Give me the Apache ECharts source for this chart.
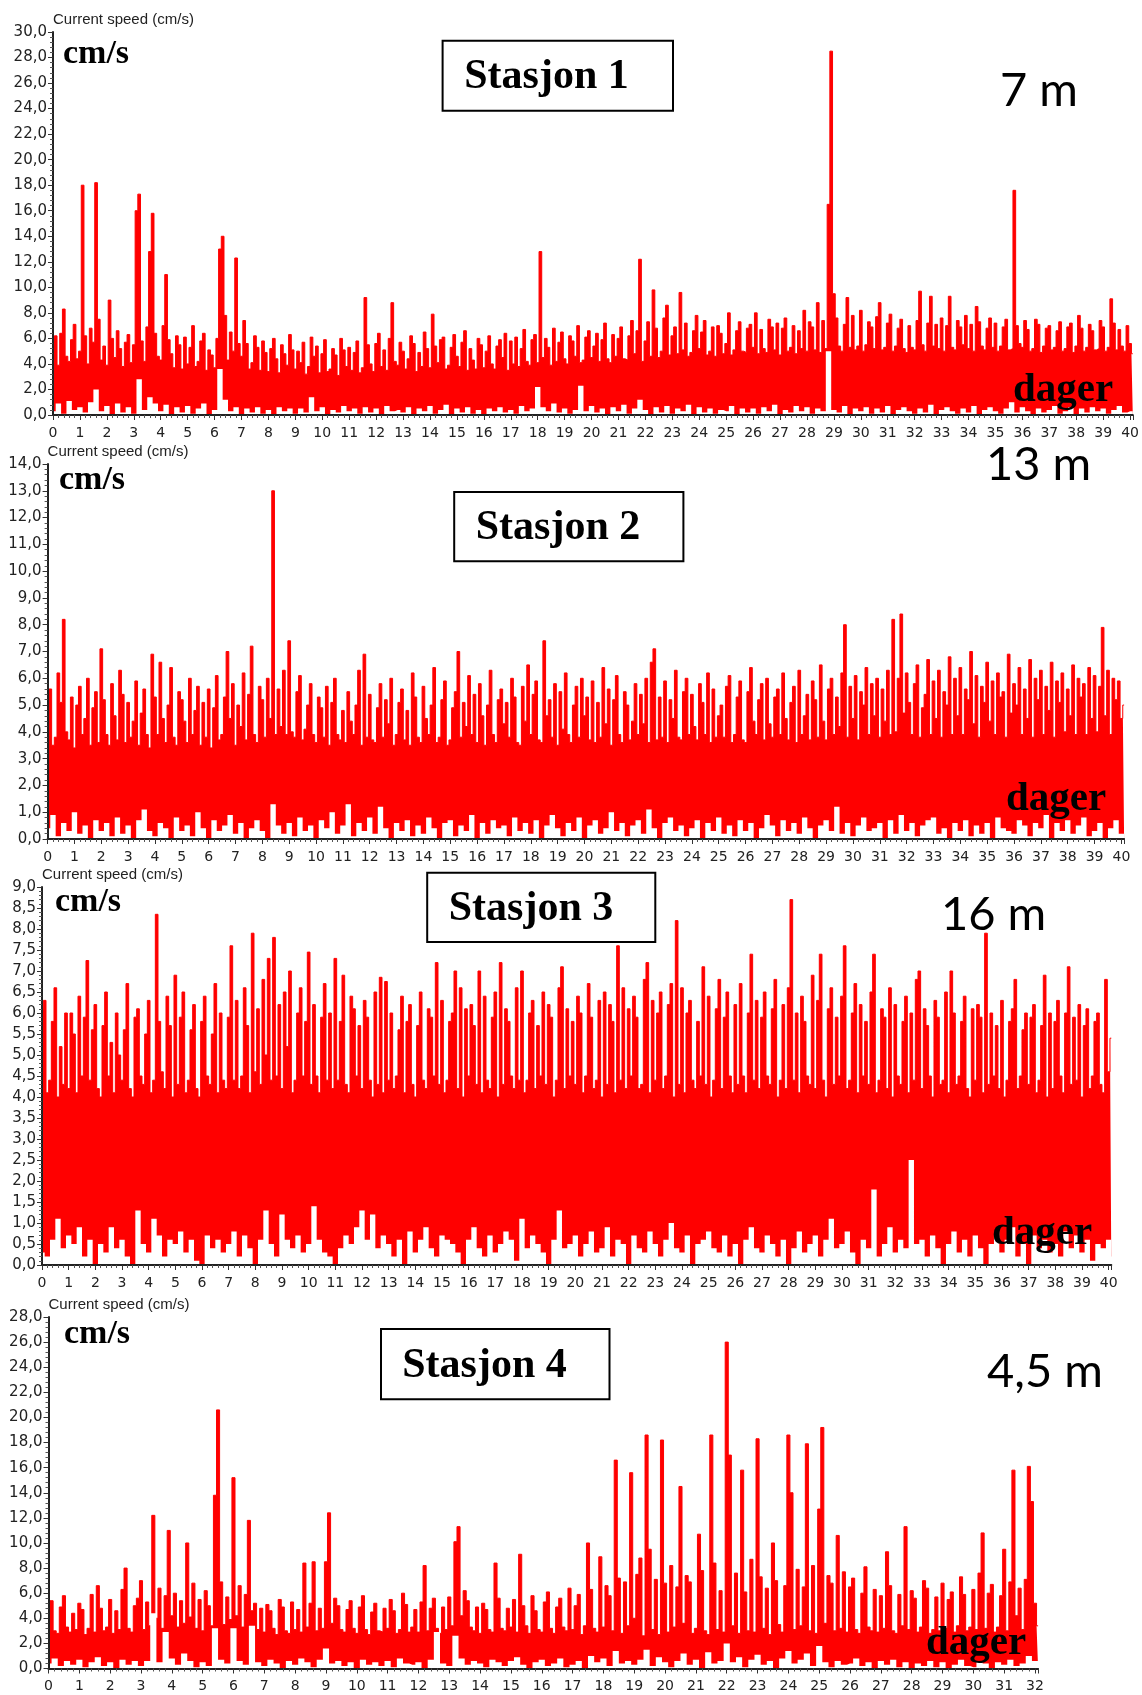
<!DOCTYPE html>
<html>
<head>
<meta charset="utf-8">
<script src="https://cdn.jsdelivr.net/npm/echarts@6/dist/echarts.min.js"></script>
<style>
html,body{margin:0;padding:0;background:#fff;}
#main{width:1142px;height:1695px;}
</style>
</head>
<body>
<div id="main"></div>
<script>
// current speed, cm/s. upper edge read 10 per day, lower edge 5 per day
var HI_STEP = 0.1;
var LO_STEP = 0.2;

var stationNames = ['Stasjon 1', 'Stasjon 2', 'Stasjon 3', 'Stasjon 4'];
var depths = ['7 m', '13 m', '16 m', '4,5 m'];
var yMaxes = [30, 14, 9, 28];
var yIntervals = [2, 1, 0.5, 2];
var xMaxes = [40.1, 40.1, 40.1, 32.1];

var s1Hi = [
  5.6,6.2,3.9,6.4,8.3,4.6,4.2,5.9,7.1,4.4,
  5.0,18.0,6.2,4.0,6.8,5.7,18.2,7.5,4.3,5.4,
  3.9,9.0,6.0,4.5,6.6,5.2,3.8,5.7,6.3,4.1,
  5.5,16.0,17.3,5.8,4.2,6.9,12.8,15.8,6.4,4.6,
  4.3,7.0,11.0,5.9,4.8,3.7,6.2,5.5,3.6,6.1,
  4.0,5.3,7.0,3.8,4.2,5.8,6.4,3.5,5.1,4.7,
  3.7,6.0,13.0,14.0,7.8,4.3,6.5,5.0,12.3,5.6,
  4.6,7.4,5.6,3.6,4.1,6.2,5.3,3.5,5.8,4.9,
  3.4,5.2,6.0,4.4,3.3,5.5,4.8,3.9,6.3,5.1,
  3.6,5.0,4.1,5.7,3.2,3.8,6.1,4.6,5.4,3.3,
  4.8,5.9,3.4,3.6,5.2,4.7,3.1,6.0,5.1,3.8,
  5.3,3.5,4.9,5.8,3.3,3.7,9.2,5.5,4.0,3.4,
  5.6,6.4,3.8,5.1,3.5,6.0,8.8,4.2,3.9,5.7,
  5.0,3.6,4.4,6.2,5.6,3.4,4.9,3.8,6.5,5.2,
  3.7,7.9,5.4,4.1,5.9,6.1,3.6,3.9,5.3,6.3,
  4.6,3.8,5.7,6.6,3.5,5.2,4.3,3.6,6.0,5.5,
  3.7,5.0,6.2,4.0,3.6,5.4,5.9,4.5,6.4,3.5,
  5.8,4.0,6.1,3.8,5.2,6.7,4.2,3.9,5.9,6.3,
  4.1,12.8,4.5,6.0,5.3,3.9,6.8,4.2,5.7,6.5,
  4.4,4.0,6.2,5.8,4.6,7.0,4.1,4.3,6.1,6.6,
  4.5,5.4,6.4,4.2,5.9,7.2,4.4,4.1,6.3,4.6,
  6.0,6.9,4.4,4.3,6.2,7.4,4.8,6.6,12.2,4.2,
  5.8,7.3,4.6,9.8,6.8,4.5,5.0,7.6,8.6,4.7,
  6.2,6.9,4.8,9.6,5.1,7.2,4.6,4.9,6.6,7.8,
  5.2,6.5,7.4,4.7,5.0,6.9,4.6,7.0,6.4,4.8,
  5.6,8.0,4.7,5.1,6.6,7.3,5.0,4.9,6.8,7.1,
  5.3,8.0,4.8,6.7,5.2,4.9,7.5,6.9,5.1,7.2,
  4.7,6.8,7.6,5.0,5.3,7.0,4.8,6.6,5.2,8.2,
  5.0,7.3,6.9,5.1,8.8,4.9,7.4,5.2,16.5,28.5,
  9.5,7.6,5.4,5.0,7.1,9.2,5.3,7.8,5.1,5.4,
  8.2,5.0,5.5,7.3,6.9,5.2,7.7,8.8,5.1,5.3,
  7.2,7.9,5.0,5.4,6.8,7.5,5.2,4.9,7.0,5.3,
  5.1,7.4,9.7,5.5,5.0,7.2,9.3,5.4,7.1,5.2,
  7.6,5.0,7.0,9.3,5.3,5.1,7.4,6.9,5.5,7.8,
  5.2,7.1,5.0,8.5,7.3,5.4,5.1,6.8,7.6,5.3,
  7.2,5.0,5.4,6.9,7.5,5.1,5.2,17.6,7.0,5.6,
  5.3,7.4,6.7,5.0,5.2,7.5,7.1,4.9,5.4,6.8,
  7.0,5.1,5.3,6.6,7.3,5.0,5.2,6.9,7.2,4.9,
  5.4,7.8,6.8,5.0,5.3,7.1,6.6,5.1,5.2,7.4,
  6.9,5.0,5.3,9.1,7.2,5.1,6.7,5.4,5.0,7.0,
  5.6,4.8
];
var s1Lo = [
  0.3,0.9,0.1,1.1,0.4, 0.6,0.2,1.0,2.0,0.3, 0.7,0.0,0.9,0.2,0.6, 0.1,2.8,0.4,1.4,0.9,
  0.3,0.8,0.0,0.6,0.2, 0.7,0.1,0.5,0.9,0.0, 0.4,3.6,1.2,0.3,0.6, 0.0,0.5,0.2,0.6,0.1,
  0.4,0.0,0.6,0.3,0.5, 0.1,0.5,0.2,1.4,0.3, 0.6,0.0,0.4,0.2,0.7, 0.3,0.5,0.1,0.6,0.2,
  0.5,0.0,0.7,0.3,0.4, 0.2,0.6,0.0,0.5,0.3, 0.7,0.1,0.4,0.8,0.0, 0.5,0.2,0.6,0.1,0.4,
  0.0,0.5,0.3,0.6,0.2, 0.4,0.1,0.7,0.3,0.5, 2.2,0.6,0.3,0.9,0.2, 0.5,0.1,0.4,2.3,0.3,
  0.7,0.2,0.5,0.0,0.6, 0.3,0.8,0.1,0.5,1.2, 0.4,0.0,0.6,0.2,0.7, 0.1,0.5,0.3,0.8,0.0,
  0.6,0.2,0.5,0.1,0.4, 0.3,0.7,0.0,0.5,0.2, 0.5,0.1,0.6,0.3,0.8, 0.0,0.4,0.2,0.7,0.3,
  0.6,0.1,0.5,0.3,5.0, 0.4,0.2,0.7,0.0,0.5, 0.3,0.6,0.1,0.5,0.2, 0.7,0.0,0.4,0.6,0.3,
  0.1,0.5,0.2,0.8,0.0, 0.4,0.6,0.3,0.1,0.5, 0.2,0.7,0.0,0.4,0.6, 0.3,0.1,0.5,1.0,0.2,
  0.6,0.3,0.0,0.5,0.2, 0.4,0.7,0.1,0.3,0.6, 0.0,0.5,0.2,0.6,0.3, 0.5,0.1,0.4,0.7,0.2,
  0.3,0.0
];

var s2Hi = [
  4.8,5.6,3.5,3.8,6.2,5.1,8.2,4.0,3.7,5.3,
  3.4,5.0,5.7,3.9,4.5,6.0,3.5,4.9,5.5,3.6,
  7.1,5.2,3.9,3.5,5.8,4.6,3.7,6.3,5.4,3.6,
  5.1,3.8,4.4,5.9,3.5,4.7,5.6,3.9,3.4,6.9,
  5.3,3.9,6.6,4.5,3.6,5.0,6.4,3.8,3.5,5.5,
  5.2,4.4,3.6,6.0,3.9,4.8,5.7,3.5,5.1,3.8,
  5.6,3.4,4.9,6.1,3.7,3.9,5.3,7.0,4.5,5.8,
  3.5,5.0,4.2,6.2,3.7,5.4,7.2,3.9,3.6,5.7,
  5.2,3.8,6.0,4.5,13.0,3.9,5.6,4.2,6.3,3.9,
  7.4,4.0,3.8,5.5,6.1,3.7,4.1,5.0,5.8,3.9,
  3.6,5.3,4.9,3.8,5.7,3.5,5.1,6.0,3.9,3.7,
  4.8,3.6,5.5,4.4,3.9,5.0,6.3,3.5,6.9,3.8,
  5.4,3.7,3.6,4.9,5.8,3.8,5.2,4.3,6.0,3.5,
  3.9,5.1,5.6,3.7,4.8,3.5,6.2,5.3,3.8,3.6,
  5.7,4.5,3.9,5.0,6.4,3.6,3.8,5.2,5.9,3.5,
  3.7,4.9,5.5,7.0,3.8,5.1,4.2,6.1,3.9,5.4,
  3.6,5.8,4.6,3.5,5.0,6.3,3.9,3.6,5.2,5.6,
  4.3,5.1,3.8,6.0,5.3,3.6,3.5,5.7,4.4,6.5,
  3.9,5.4,5.9,3.7,3.6,7.4,4.6,5.2,3.8,5.8,
  3.5,5.5,4.1,6.2,3.9,3.6,5.0,5.7,3.8,6.0,
  4.6,5.3,3.7,5.9,3.6,5.1,3.8,6.4,4.3,5.6,
  3.5,5.2,6.1,3.9,3.6,5.5,5.0,3.7,4.4,5.8,
  3.9,5.4,4.3,6.0,3.6,6.6,7.1,3.7,5.3,3.8,
  5.9,3.6,5.2,4.5,6.3,3.8,3.7,5.5,6.0,3.9,
  5.4,4.2,3.7,5.8,5.1,3.9,6.2,3.6,5.6,3.8,
  4.6,5.0,3.8,5.7,6.1,3.6,3.9,5.3,5.9,3.7,
  3.6,5.5,6.4,4.4,3.9,5.2,5.8,3.7,6.0,4.3,
  3.8,5.3,5.6,3.9,6.2,4.5,3.7,5.1,5.7,3.6,
  6.3,3.9,4.6,5.4,3.7,5.9,5.2,3.8,6.5,4.4,
  3.7,5.6,6.0,3.9,5.3,4.2,6.2,8.0,3.8,5.7,
  4.5,6.1,3.7,5.5,5.0,6.4,3.9,5.8,4.6,6.0,
  3.8,5.6,4.4,6.3,3.9,8.2,4.0,6.0,8.4,4.7,
  6.2,5.1,3.9,5.8,6.5,3.8,4.9,5.4,6.7,3.9,
  5.9,4.5,6.3,3.8,5.5,5.0,6.8,3.9,6.0,4.6,
  6.4,3.9,5.6,5.2,7.0,4.3,6.1,3.8,5.7,5.1,
  6.6,4.4,5.9,3.9,6.2,5.3,5.5,3.8,6.9,4.7,
  5.8,5.0,6.4,3.9,5.6,4.5,6.7,3.8,6.0,5.2,
  6.3,3.9,5.7,4.8,6.6,3.8,5.9,5.1,6.2,4.0,
  5.6,4.6,6.5,3.9,6.0,5.3,5.8,3.9,6.4,4.5,
  6.1,4.0,5.7,7.9,4.6,6.3,3.9,6.0,5.2,5.9,
  4.5,5.0
];
var s2Lo = [
  0.4,0.9,0.1,0.6,0.3, 1.0,0.2,0.5,0.0,0.7, 0.3,0.6,0.1,0.8,0.2, 0.5,0.0,0.7,1.1,0.3,
  0.1,0.6,0.4,0.0,0.8, 0.3,0.5,0.1,1.0,0.4, 0.0,0.7,0.3,0.5,0.9, 0.2,0.6,0.0,0.4,0.7,
  0.3,0.0,1.3,0.5,0.2, 0.6,0.1,0.8,0.3,0.5, 0.0,0.7,0.4,1.0,0.2, 0.5,1.3,0.1,0.6,0.3,
  0.8,0.2,1.2,0.4,0.0, 0.6,0.3,0.7,0.1,0.5, 0.2,0.8,0.4,0.0,0.6, 0.7,0.1,0.5,0.3,0.9,
  0.0,0.6,0.2,0.7,0.4, 0.5,0.1,0.8,0.3,0.6, 0.2,0.7,0.0,0.5,0.9, 0.4,0.1,0.6,0.3,0.8,
  0.0,0.5,0.7,0.2,0.4, 1.0,0.3,0.6,0.1,0.5, 0.7,0.2,1.1,0.4,0.0, 0.6,0.8,0.3,0.5,0.1,
  0.4,0.7,0.0,0.6,0.3, 0.8,0.2,0.5,0.1,0.7, 0.3,0.6,0.0,0.4,0.9, 0.5,0.1,0.7,0.3,0.6,
  0.2,0.8,0.4,0.0,0.5, 0.7,0.3,1.2,0.2,0.6, 0.1,0.5,0.8,0.3,0.4, 0.6,0.0,0.7,0.2,0.9,
  0.3,0.6,0.1,0.5,0.7, 0.8,0.2,0.4,0.0,0.6, 0.3,0.7,0.1,0.5,0.2, 0.6,0.0,0.8,0.4,0.3,
  0.2,0.7,0.5,0.1,0.6, 0.4,0.9,0.0,0.6,0.3, 0.7,0.2,0.5,0.8,0.1, 0.3,0.6,0.0,0.4,0.7,
  0.2,0.0
];

var s3Hi = [
  5.4,6.3,4.1,4.4,5.8,6.6,4.0,5.2,4.3,6.0,
  4.2,6.0,5.5,4.1,6.4,4.5,5.9,7.25,4.4,5.6,
  6.2,4.2,4.0,5.7,6.5,4.5,5.3,4.1,6.0,5.0,
  4.4,5.6,6.7,4.2,4.0,5.9,6.1,4.5,4.3,5.5,
  6.3,4.1,4.4,8.35,5.8,4.6,4.2,6.4,5.7,4.0,
  6.9,4.3,5.9,6.5,4.1,4.4,5.6,6.2,4.2,4.0,
  5.8,6.4,4.5,4.3,5.5,6.7,4.1,6.0,4.4,4.2,
  5.9,7.6,4.4,6.3,4.2,4.5,6.6,5.7,4.1,7.9,
  4.6,6.1,4.3,6.8,5.0,7.3,4.4,7.8,4.5,6.2,
  4.2,6.5,5.2,7.0,4.1,4.4,6.0,6.6,4.5,5.8,
  7.45,4.3,6.2,4.5,4.1,5.9,6.7,4.4,6.0,4.2,
  7.3,4.4,5.8,6.9,4.3,4.1,6.4,6.1,4.5,5.7,
  4.2,6.3,5.9,4.4,4.0,6.5,4.3,6.85,4.1,6.75,
  4.4,6.0,4.2,4.5,5.6,6.4,4.1,5.8,6.2,4.3,
  4.0,5.7,6.5,4.4,4.2,6.1,5.9,4.5,7.2,4.3,
  6.3,4.1,4.4,5.8,6.0,7.0,4.2,6.6,4.0,6.1,
  4.5,6.2,5.7,4.3,7.0,4.1,6.4,4.4,4.2,5.9,
  6.5,4.0,7.2,4.3,6.1,5.8,4.5,4.2,6.6,4.4,
  7.0,4.1,4.4,6.0,6.3,4.2,5.7,4.5,6.5,4.3,
  6.2,5.9,4.0,4.4,6.6,7.1,4.2,6.1,4.5,5.8,
  4.3,6.4,6.0,4.1,4.5,6.7,5.9,4.2,4.4,6.3,
  4.0,6.5,4.3,6.2,5.8,4.1,7.6,4.4,6.6,4.2,
  6.1,4.5,6.4,5.9,4.2,4.3,6.8,7.2,4.1,6.3,
  4.4,6.0,6.5,4.2,4.5,6.2,6.7,4.0,8.2,4.3,
  6.6,4.1,6.0,6.3,4.4,4.2,5.8,4.5,7.1,4.3,
  6.4,4.0,4.4,6.1,6.8,4.2,5.9,6.5,4.5,4.1,
  6.2,4.3,6.7,4.5,4.1,6.0,7.4,4.4,6.3,4.2,
  5.9,6.5,4.5,4.3,6.1,6.8,4.0,4.4,6.2,4.2,
  6.6,8.7,4.4,6.0,4.1,6.4,5.8,4.5,4.3,6.9,
  4.2,6.3,7.4,4.4,4.0,6.1,6.6,4.3,5.9,4.5,
  6.4,7.6,4.2,4.4,6.0,6.7,4.1,6.2,4.5,5.8,
  4.3,6.5,7.4,4.1,4.4,6.1,5.9,4.2,6.6,4.0,
  6.2,4.5,4.3,5.8,6.4,4.1,6.0,4.4,6.8,7.0,
  4.2,6.1,5.7,4.5,4.0,6.3,5.9,4.3,4.4,6.5,
  4.1,7.0,6.0,4.3,4.5,5.8,6.4,4.2,4.0,6.1,
  4.4,6.2,5.9,4.1,7.9,4.3,6.0,4.5,5.7,4.2,
  6.3,4.0,4.4,5.8,6.1,6.8,4.2,4.5,5.6,6.0,
  4.3,5.9,6.2,4.1,4.4,5.7,6.9,4.0,6.0,4.2,
  5.8,6.3,4.5,4.1,6.0,7.1,4.3,5.9,4.4,6.2,
  4.0,5.7,6.1,4.2,4.5,5.8,6.0,4.3,4.1,6.8,
  4.6,5.4
];
var s3Lo = [
  0.3,0.2,0.6,1.1,0.4, 0.7,0.5,0.9,0.2,0.6, 0.0,0.5,0.3,0.9,0.4, 0.6,0.2,0.0,1.3,0.5,
  0.3,1.1,0.7,0.2,0.6, 0.5,0.8,0.3,0.6,0.1, 0.0,0.7,0.4,0.6,0.3, 0.5,0.8,0.2,0.7,0.4,
  0.0,0.6,1.3,0.5,0.2, 1.2,0.6,0.4,0.7,0.3, 0.5,1.4,0.6,0.3,0.2, 0.0,0.4,0.7,0.5,0.9,
  1.3,0.6,1.2,0.4,0.7, 0.5,0.2,0.6,0.0,0.8, 0.3,0.6,0.9,0.4,0.2, 0.7,0.6,0.5,0.3,0.0,
  0.6,0.9,0.4,0.2,0.7, 0.3,0.5,0.8,0.6,0.1, 1.1,0.4,0.7,0.5,0.3, 0.0,0.6,1.3,0.4,0.5,
  0.7,0.2,0.5,0.8,0.3, 0.4,0.9,0.2,0.6,0.5, 0.0,0.7,0.4,0.3,0.8, 0.5,0.2,0.6,1.0,0.4,
  0.3,0.7,0.0,0.5,0.6, 0.8,0.4,0.3,0.7,0.2, 0.5,0.0,0.6,0.9,0.4, 0.3,0.7,0.5,0.2,0.6,
  0.0,0.4,0.8,0.3,0.5, 0.7,0.2,0.6,1.1,0.4, 0.5,0.8,0.3,0.0,0.6, 0.4,1.8,0.2,0.5,0.9,
  0.3,0.6,0.4,2.5,0.5, 0.6,0.2,0.7,0.4,0.0, 0.5,0.8,0.3,0.6,0.2, 0.7,0.4,0.0,0.5,0.8,
  0.3,0.6,0.9,0.2,0.5, 0.0,0.7,0.4,0.6,0.3, 0.5,0.2,0.8,0.4,0.7, 0.3,0.6,0.1,0.5,0.4,
  0.6,0.2
];

var s4Hi = [
  4.6,5.4,3.0,2.8,4.9,5.8,3.3,2.9,4.4,3.1,
  5.2,4.7,2.7,3.2,5.9,2.9,6.6,4.8,3.0,3.3,
  5.5,2.8,4.6,3.1,6.3,8.0,3.2,2.9,5.0,5.6,
  7.0,3.1,5.3,3.4,12.2,4.0,6.4,3.2,5.8,11.0,
  4.2,6.0,3.3,5.4,3.6,10.0,4.1,6.8,3.2,5.5,
  3.0,6.2,5.0,3.4,13.8,20.6,6.9,3.5,5.7,3.9,
  15.2,4.2,6.6,3.3,5.9,11.8,4.6,5.2,3.1,4.8,
  2.9,5.1,4.6,3.2,2.7,5.5,4.9,3.0,2.8,5.3,
  3.1,4.7,2.9,8.4,3.3,5.2,8.5,3.0,4.8,3.2,
  8.5,12.4,3.6,5.6,5.0,3.1,2.9,4.7,5.4,3.2,
  2.8,4.9,5.8,3.1,2.7,4.5,5.2,3.0,2.9,4.8,
  3.2,5.5,4.6,2.8,3.1,6.0,5.1,2.9,3.3,4.7,
  2.9,5.3,8.2,3.0,4.8,5.6,3.2,2.8,4.9,3.1,
  5.7,3.4,10.1,11.3,4.2,6.2,5.4,3.3,3.0,4.9,
  2.8,5.2,4.7,3.1,2.9,8.4,5.6,3.2,3.0,4.8,
  3.3,5.5,2.9,9.1,5.0,3.4,2.8,5.8,4.6,3.1,
  2.9,5.3,6.1,3.2,2.8,4.9,5.6,3.3,3.0,6.4,
  3.1,5.0,5.9,2.7,3.4,10.0,6.3,3.2,2.9,8.9,
  3.3,6.6,5.8,3.0,16.6,7.2,2.8,6.9,3.4,15.6,
  4.0,7.5,8.8,2.6,18.6,9.5,3.1,7.1,2.7,18.2,
  6.8,2.9,8.2,3.3,6.5,14.5,3.6,7.4,6.9,2.8,
  3.2,10.7,7.8,3.0,2.7,18.6,8.4,3.1,6.2,2.9,
  26.0,17.0,3.4,7.6,2.8,15.8,6.1,3.0,8.7,2.9,
  18.3,7.3,3.2,6.4,2.7,10.0,7.0,3.5,2.9,6.6,
  18.6,14.0,3.1,7.9,3.4,6.5,17.9,3.0,8.2,2.8,
  12.7,19.2,3.6,7.4,6.8,3.0,10.6,3.2,7.7,2.9,
  6.5,7.2,3.1,2.8,6.0,8.1,3.3,3.0,6.3,2.9,
  5.8,3.2,9.3,6.6,3.0,2.8,5.9,3.4,11.3,3.1,
  6.2,5.6,2.9,3.3,7.0,6.4,2.8,3.1,5.7,3.0,
  6.8,3.2,5.5,6.1,2.9,3.4,7.3,5.9,3.0,3.3,
  6.3,3.1,7.6,10.8,3.2,6.0,6.7,2.9,3.3,5.8,
  9.5,3.0,6.9,15.8,4.2,6.4,3.1,7.1,16.1,13.3,
  5.2,3.4
];
var s4Lo = [
  0.4,0.8,0.2,0.6,0.3, 0.7,0.1,0.5,0.9,0.2, 0.5,0.0,0.7,0.3,0.6, 0.2,0.6,4.4,0.5,2.9,
  0.8,0.3,1.2,0.6,0.1, 0.5,0.2,3.2,0.7,0.4, 3.2,0.6,0.3,3.4,0.5, 0.2,0.7,0.4,0.0,0.6,
  0.3,0.8,0.5,0.1,0.7, 1.6,0.4,0.6,0.2,0.5, 0.0,0.7,0.3,0.5,0.2, 0.6,0.1,0.8,0.4,0.3,
  0.5,0.0,0.7,2.9,0.4, 0.2,2.6,0.8,0.3,0.6, 0.4,0.1,0.7,0.5,0.2, 0.6,0.9,0.3,0.0,0.5,
  0.7,0.2,0.4,0.8,0.1, 0.3,0.6,0.0,1.0,0.5, 0.8,0.2,1.4,0.4,0.6, 0.3,0.7,1.5,0.2,0.9,
  0.5,0.1,0.6,1.2,0.3, 0.7,0.0,1.3,0.4,0.6, 2.0,0.5,0.9,0.1,0.7, 1.1,0.3,0.6,0.0,0.8,
  1.4,0.4,0.7,1.2,0.2, 1.8,0.5,0.1,0.6,0.3, 0.4,0.8,0.2,0.5,0.0, 0.6,0.3,0.7,0.1,0.5,
  0.0,0.4,0.2,0.6,0.1, 0.5,0.0,0.3,0.7,0.2, 0.1,0.6,0.4,0.0,0.5, 0.3,0.7,0.2,0.4,1.0,
  0.6,0.3
];

var hiSeries = [s1Hi, s2Hi, s3Hi, s4Hi];
var loSeries = [s1Lo, s2Lo, s3Lo, s4Lo];

var grids = [
  {left: 53, top: 32, width: 1080.7, height: 383},
  {left: 47.6, top: 464, width: 1076.5, height: 375},
  {left: 42, top: 887, width: 1069.3, height: 378},
  {left: 48.5, top: 1317, width: 989.6, height: 351.5}
];
var cmsPos = [[63, 54], [59, 480.5], [55, 902], [64, 1334]];
var boxPos = [[442.6, 40.7, 230.4, 70], [454.2, 492, 229.2, 69.2], [427.2, 872.7, 228.1, 69.2], [381, 1329, 228.5, 70.3]];
var namePos = [[546.5, 77], [558, 528], [531, 909.5], [484.5, 1366]];
var depthPos = [[1000, 91], [986, 465], [941, 915], [987, 1372]];
var dagerPos = [[1013, 390.5], [1006, 799], [992, 1233], [926, 1643]];

function toXY(arr, step) {
  return arr.map(function (v, i) { return [Math.round(i * step * 100) / 100, v]; });
}

var RED = '#ff0000';
var option = {
  backgroundColor: '#fff',
  animation: false,
  grid: [], xAxis: [], yAxis: [], series: [], graphic: []
};

for (var p = 0; p < 4; p++) {
  option.grid.push(grids[p]);
  option.xAxis.push({
    type: 'value', gridIndex: p, min: 0, max: xMaxes[p], interval: 1, z: 10,
    axisLine: {show: true, onZero: false, lineStyle: {color: '#222', width: 2}},
    axisTick: {show: true, length: 5, lineStyle: {color: '#333', width: 1}},
    minorTick: {show: true, splitNumber: 5, length: 3, lineStyle: {color: '#555', width: 1}},
    splitLine: {show: false},
    axisLabel: {
      margin: 11, color: '#222', fontSize: 14, fontFamily: 'DejaVu Sans',
      formatter: function (v) { return Math.abs(v - Math.round(v)) < 1e-6 ? String(Math.round(v)) : ''; }
    }
  });
  option.yAxis.push({
    type: 'value', gridIndex: p, min: 0, max: yMaxes[p], interval: yIntervals[p], z: 10,
    name: 'Current speed (cm/s)', nameLocation: 'end', nameGap: 12,
    nameTextStyle: {align: 'left', verticalAlign: 'middle', color: '#222', fontSize: 15, fontFamily: 'Liberation Sans'},
    axisLine: {show: true, onZero: false, lineStyle: {color: '#222', width: 2}},
    axisTick: {show: true, length: 5, lineStyle: {color: '#333', width: 1}},
    minorTick: {show: true, splitNumber: 5, length: 3, lineStyle: {color: '#555', width: 1}},
    splitLine: {show: false},
    axisLabel: {
      margin: 6, color: '#222', fontSize: 15, fontFamily: 'DejaVu Sans',
      formatter: function (v) { return v.toFixed(1).replace('.', ','); }
    }
  });
  // upper edge of the red band, drawn as steps
  option.series.push({
    type: 'line', xAxisIndex: p, yAxisIndex: p, data: toXY(hiSeries[p], HI_STEP),
    step: 'middle', showSymbol: false, symbol: 'none', z: 2,
    lineStyle: {color: RED, width: 1},
    areaStyle: {color: RED, opacity: 1}
  });
  // white area below the lowest readings
  option.series.push({
    type: 'line', xAxisIndex: p, yAxisIndex: p, data: toXY(loSeries[p], LO_STEP),
    step: 'middle', showSymbol: false, symbol: 'none', z: 3,
    lineStyle: {width: 0, color: '#fff'},
    areaStyle: {color: '#fff', opacity: 1}
  });

  option.graphic.push({
    type: 'text', z: 20,
    style: {text: 'cm/s', x: cmsPos[p][0], y: cmsPos[p][1], fill: '#000',
      font: 'bold 34px "Liberation Serif"', textAlign: 'left', textVerticalAlign: 'middle', verticalAlign: 'middle'}
  });
  option.graphic.push({
    type: 'rect', z: 20,
    shape: {x: boxPos[p][0], y: boxPos[p][1], width: boxPos[p][2], height: boxPos[p][3]},
    style: {fill: '#fff', stroke: '#000', lineWidth: 2}
  });
  option.graphic.push({
    type: 'text', z: 21,
    style: {text: stationNames[p], x: namePos[p][0], y: namePos[p][1], fill: '#000',
      font: 'bold 42px "Liberation Serif"', textAlign: 'center', textVerticalAlign: 'middle', verticalAlign: 'middle'}
  });
  option.graphic.push({
    type: 'text', z: 20,
    style: {text: depths[p], x: depthPos[p][0], y: depthPos[p][1], fill: '#000',
      font: '47px Lato', textAlign: 'left', textVerticalAlign: 'middle', verticalAlign: 'middle'}
  });
  option.graphic.push({
    type: 'text', z: 20,
    style: {text: 'dager', x: dagerPos[p][0], y: dagerPos[p][1], fill: '#000',
      font: 'bold 41px "Liberation Serif"', textAlign: 'left', textVerticalAlign: 'middle', verticalAlign: 'middle'}
  });
}

var chart = echarts.init(document.getElementById('main'), null, {renderer: 'canvas'});
chart.setOption(option);
</script>
</body>
</html>
